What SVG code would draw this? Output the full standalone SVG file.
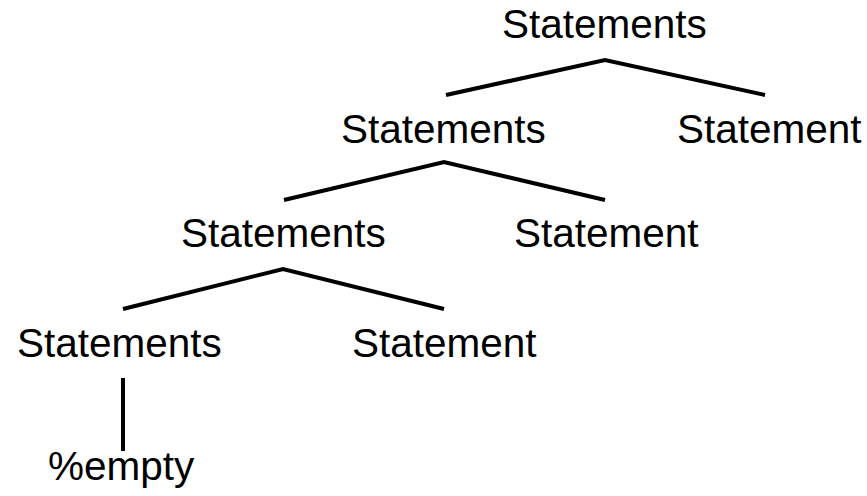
<svg xmlns="http://www.w3.org/2000/svg" width="867" height="496" viewBox="0 0 867 496">
<style>
text{font-family:"Liberation Sans",Arial,sans-serif;font-size:40.5px;fill:#000}
.e{fill:none;stroke:#000;stroke-width:4;stroke-linejoin:miter}
</style>
<rect width="867" height="496" fill="#fff"/>
<g id="connectors">
<polyline class="e" points="446,95 605,60 765,95"/>
<polyline class="e" points="284,200 444,162 605,200"/>
<polyline class="e" points="123,309 283,269 444,309"/>
<line class="e" x1="123" y1="378" x2="123" y2="451"/>
</g>
<g id="n1"><text x="502" y="38">Statements</text></g>
<g id="n2"><text x="341" y="143">Statements</text></g>
<g id="n3"><text x="677" y="143">Statement</text></g>
<g id="n4"><text x="181" y="247">Statements</text></g>
<g id="n5"><text x="514" y="247">Statement</text></g>
<g id="n6"><text x="17" y="357">Statements</text></g>
<g id="n7"><text x="352" y="357">Statement</text></g>
<g id="n8"><text x="48" y="480">%empty</text></g>
</svg>
